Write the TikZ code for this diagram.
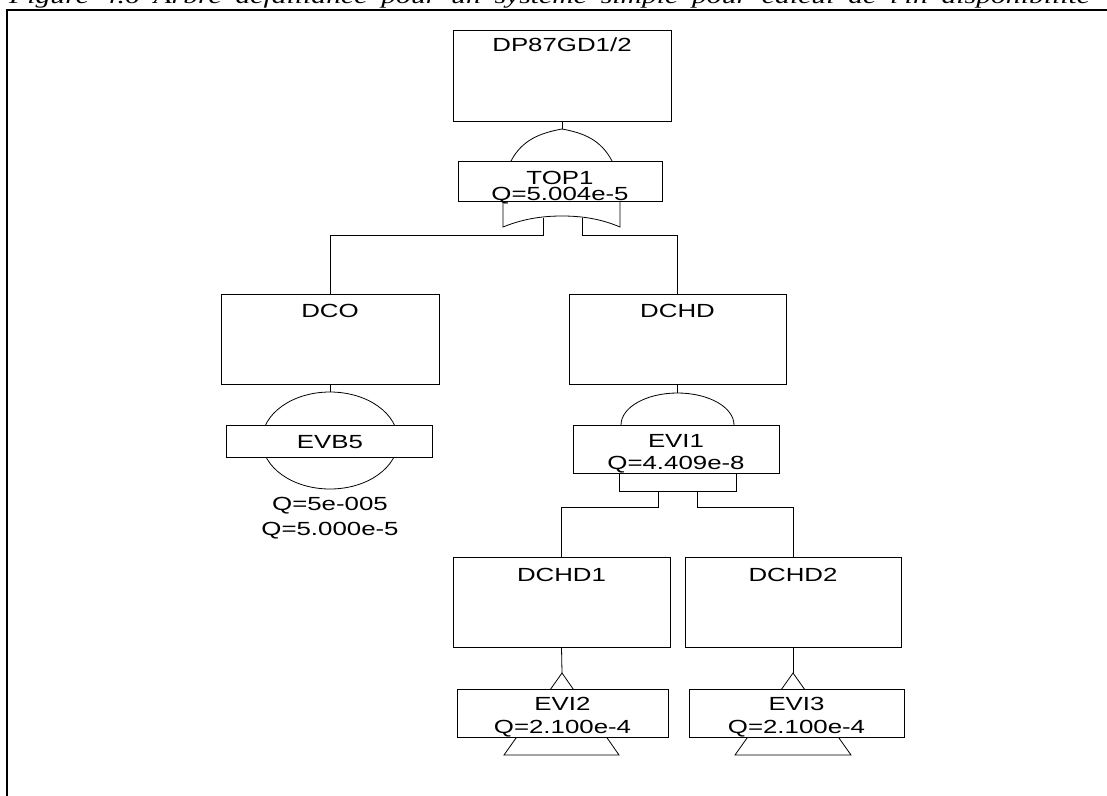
\documentclass[tikz,border=0pt]{standalone}
\usepackage{fontspec}
\setmainfont{Liberation Sans}
\newfontfamily\titlefont{Liberation Serif}
\newcommand\sx[1]{\scalebox{1.36}[1]{#1}}
\begin{document}
\begin{tikzpicture}[x=1pt,y=-1pt,
  box/.style={draw=black,fill=white,line width=0.8pt,inner sep=0pt,rectangle},
  lbl/.style={anchor=base,inner sep=0pt,font=\fontsize{19}{19}\selectfont},
  lblb/.style={anchor=base,inner sep=0pt,align=center,font=\fontsize{19}{#1}\selectfont},
  wire/.style={draw=black,line width=0.8pt}]
\useasboundingbox (0,0) rectangle (1107,795);
\clip (0,0) rectangle (1107,795);
% title (cut off at the top)
\node[anchor=base west,inner sep=0pt] (title) at (9,4)
  {\titlefont\itshape\fontsize{22}{24}\selectfont\spaceskip=10.2pt plus 1pt\relax
   \scalebox{1.35}[1]{Figure 4.6 Arbre défaillance pour un système simple pour calcul de l'in disponibilité}};
% frame
\draw[line width=2.2pt] (7,800) -- (7,10) -- (1112,10);

% ---- gates (drawn under the boxes) ----
% OR gate of TOP1
\coordinate (orapex) at (562,129);
\draw[wire] (511,161) .. controls (522,140) and (540,133) .. (orapex)
            .. controls (584,133) and (601,140) .. (612,161);
\draw[wire] (503,201) -- (503,227) .. controls (525,218) and (545,216) .. (562,216)
            .. controls (579,216) and (599,218) .. (620,227) -- (620,201);
\coordinate (orL) at (543,217.5);
\coordinate (orR) at (582,217.5);
% basic event circle of EVB5
\draw[wire] (330,440.5) ellipse [x radius=68, y radius=48.5];
\coordinate (evbtop) at (330,392);
% AND gate of EVI1
\coordinate (andtop) at (677.5,393);
\draw[wire] (621,425) .. controls (621,407.3) and (646.3,393) .. (andtop)
            .. controls (708.7,393) and (734,407.3) .. (734,425);
\draw[wire] (619,473) -- (619,491) -- (736,491) -- (736,473);
\coordinate (andL) at (658,491);
\coordinate (andR) at (697,491);
% transfer triangles
\coordinate (tri2) at (562,673);
\coordinate (tri3) at (793,673);
\draw[wire] (tri2) -- (504,755) -- (619,755) -- cycle;
\draw[wire] (tri3) -- (735,755) -- (851,755) -- cycle;

% ---- boxes ----
\node[box,minimum width=218pt,minimum height=91pt] (dp) at (562,75.5) {};
\node[box,minimum width=204pt,minimum height=40pt] (top1) at (560,181) {};
\node[box,minimum width=218pt,minimum height=90pt] (dco) at (330,339) {};
\node[box,minimum width=217pt,minimum height=90pt] (dchd) at (677.5,339) {};
\node[box,minimum width=206pt,minimum height=32pt] (evb5) at (329,441) {};
\node[box,minimum width=206pt,minimum height=48pt] (evi1) at (676,449) {};
\node[box,minimum width=217pt,minimum height=90pt] (dchd1) at (561.5,602) {};
\node[box,minimum width=216pt,minimum height=90pt] (dchd2) at (793,602) {};
\node[box,minimum width=211pt,minimum height=48pt] (evi2) at (562.5,713) {};
\node[box,minimum width=215pt,minimum height=48pt] (evi3) at (796.5,713) {};

% ---- connectors ----
\draw[wire] (dp.south) -- (orapex);
\draw[wire] (orL) -- (543,235) -| (dco.north);
\draw[wire] (orR) -- (582,235) -| (dchd.north);
\draw[wire] (dco.south) -- (evbtop);
\draw[wire] (dchd.south) -- (andtop);
\draw[wire] (andL) -- (658,507) -| (dchd1.north);
\draw[wire] (andR) -- (697,507) -| (dchd2.north);
\draw[wire] (dchd1.south) -- (tri2);
\draw[wire] (dchd2.south) -- (tri3);

% ---- labels (base anchor = baseline of the last line) ----
\node[lbl] (tdp) at (562,51) {\sx{DP87GD1/2}};
\node[lblb=16] (ttop) at (560,200) {\sx{TOP1}\\\sx{Q=5.004e-5}};
\node[lbl] (tdco) at (330,317) {\sx{DCO}};
\node[lbl] (tdchd) at (677.5,317) {\sx{DCHD}};
\node[lbl] (tevb) at (330,448) {\sx{EVB5}};
\node[lblb=25] (qevb) at (330,535) {\sx{Q=5e-005}\\\sx{Q=5.000e-5}};
\node[lblb=22] (tevi1) at (676,469) {\sx{EVI1}\\\sx{Q=4.409e-8}};
\node[lbl] (tdchd1) at (561.5,581) {\sx{DCHD1}};
\node[lbl] (tdchd2) at (793,581) {\sx{DCHD2}};
\node[lblb=23] (tevi2) at (562.5,733) {\sx{EVI2}\\\sx{Q=2.100e-4}};
\node[lblb=23] (tevi3) at (796.5,733) {\sx{EVI3}\\\sx{Q=2.100e-4}};
\end{tikzpicture}
\end{document}
